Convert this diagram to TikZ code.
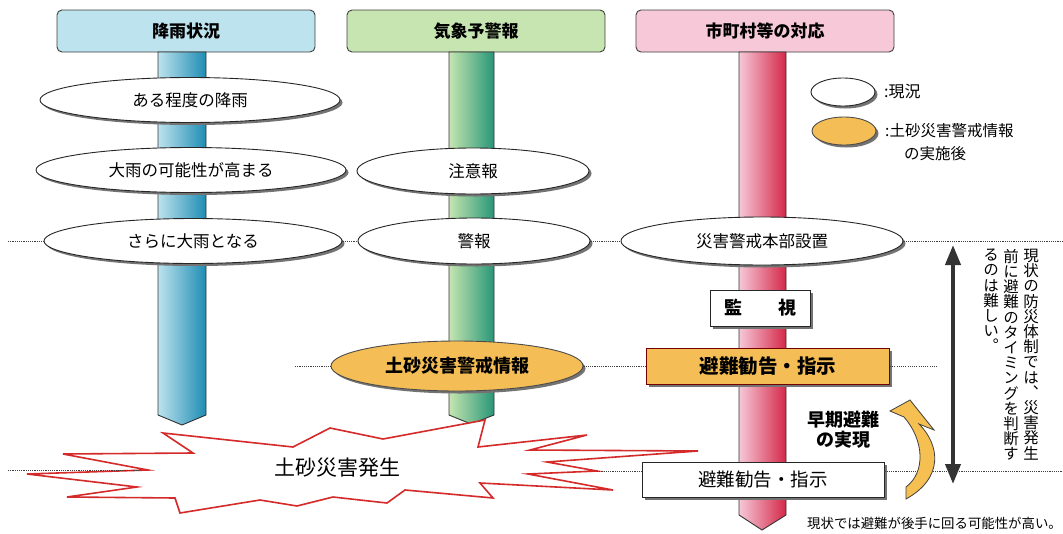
\documentclass[tikz,border=0pt]{standalone}
\usepackage{fontspec}
\setmainfont{Noto Sans CJK JP}
\newfontfamily\vjp[RawFeature=+vert]{Noto Sans CJK JP}
\usetikzlibrary{shapes.geometric,shadows,arrows.meta}
\newcommand\myfs[1]{\fontsize{#1}{#1}\selectfont}
\makeatletter
\def\vst#1{\vbox{\baselineskip=15.2pt\lineskiplimit=-20pt\vst@a#1\@nil}}
\def\vst@a#1#2\@nil{\hbox to 1em{\hss#1\hss}\ifx\relax#2\relax\expandafter\@gobble\else\expandafter\@firstofone\fi{\vst@a#2\@nil}}
\makeatother
\definecolor{hblue}{HTML}{BDE3EE}
\definecolor{hgreen}{HTML}{C6E5B0}
\definecolor{hpink}{HTML}{F6C8D8}
\definecolor{orng}{HTML}{F5BD55}
\definecolor{burst}{HTML}{D42A2A}
\tikzset{
  header/.style={draw=black!75, line width=0.9pt, rounded corners=5pt, minimum width=258, minimum height=42, inner sep=0pt, font=\bfseries\myfs{17}},
  shad/.style={general shadow={fill=black!55, shadow xshift=2.5pt, shadow yshift=-2.5pt}},
  oval/.style={ellipse, draw=black!85, line width=0.9pt, fill=white, shad, inner sep=0pt, font=\myfs{16.5}},
  ovalo/.style={oval, fill=orng, draw=black!70, font=\bfseries\myfs{18}},
  wbox/.style={rectangle, draw=black!85, line width=0.9pt, fill=white, shad, inner sep=0pt},
  obox/.style={wbox, fill=orng, draw=red!45!black},
  dotl/.style={draw=black!75, line width=1pt, dash pattern=on 1.1pt off 1.1pt},
  pillar/.style={draw=black!80, line width=0.9pt},
}
\begin{document}
\begin{tikzpicture}[x=1pt,y=-1pt]
\useasboundingbox (0,0) rectangle (1063,533);
\fill[white] (0,0) rectangle (1063,533);

% headers
\node[header, fill=hblue] (hd1) at (186,31) {降雨状況};
\node[header, fill=hgreen] (hd2) at (476,31) {気象予警報};
\node[header, fill=hpink] (hd3) at (765,31) {市町村等の対応};

% pillars
\draw[pillar, left color=hblue, middle color=hblue!70!cyan!60!blue, right color={rgb,255:red,30;green,140;blue,180}]
  (158,52) -- (158,415) -- (182,425) -- (206,415) -- (206,52) -- cycle;
\draw[pillar, left color=hgreen, middle color={rgb,255:red,160;green,214;blue,170}, right color={rgb,255:red,40;green,150;blue,120}]
  (449,52) -- (449,415) -- (471,424) -- (494,415) -- (494,52) -- cycle;
\draw[pillar, left color=hpink, middle color={rgb,255:red,236;green,160;blue,180}, right color={rgb,255:red,212;green,40;blue,72}]
  (739,52) -- (739,515) -- (762,530) -- (786,515) -- (786,52) -- cycle;

% column 1 ellipses
\node[oval, minimum width=300, minimum height=45] (e1) at (190,100) {ある程度の降雨};
\node[oval, minimum width=310, minimum height=45] (e2) at (191,170) {大雨の可能性が高まる};
\node[oval, minimum width=298, minimum height=45] (e3) at (193,241) {さらに大雨となる};

% column 2 ellipses
\node[oval, minimum width=232, minimum height=46] (w1) at (473,171) {注意報};
\node[oval, minimum width=232, minimum height=46] (w2) at (474,241) {警報};
\node[ovalo, minimum width=252, minimum height=50] (k) at (457,366) {土砂災害警戒情報};

% column 3
\node[oval, minimum width=282, minimum height=48] (h1) at (762,241) {災害警戒本部設置};
\node[wbox, minimum width=100, minimum height=36, font=\bfseries\myfs{18}] (kan) at (760,308) {監\hspace{2em}視};
\node[obox, minimum width=243, minimum height=36, font=\bfseries\myfs{19.5}] (ob) at (768,366) {避難勧告・指示};
\node[wbox, minimum width=242, minimum height=35, font=\myfs{18.5}] (wb) at (763,480) {避難勧告・指示};

% legend
\node[oval, minimum width=64, minimum height=28] (lg1) at (843,92) {};
\node[ovalo, minimum width=64, minimum height=28] (lg2) at (844,131) {};
\node[anchor=west, font=\myfs{16}, inner sep=0pt] (lt1) at (884,92) {:現況};
\node[anchor=west, font=\myfs{15.5}, inner sep=0pt] (lt2) at (885,131) {:土砂災害警戒情報};
\node[anchor=west, font=\myfs{15.5}, inner sep=0pt] (lt3) at (904,154) {の実施後};

% starburst
\draw[burst, line width=1.6pt, line join=miter, fill=white]
  (163,433) -- (293,447) -- (330,428) -- (383,439) -- (485,420) -- (478,447)
  -- (587,435) -- (530,450) -- (698,451) -- (547,462) -- (597,471) -- (528,474)
  -- (613,490) -- (480,483) -- (493,498) -- (405,490) -- (387,503) -- (333,497)
  -- (297,506) -- (260,500) -- (180,513) -- (175,498) -- (67,497) -- (137,487)
  -- (27,474) -- (148,470) -- (63,454) -- (193,453) -- cycle;
\node[font=\myfs{21}] (sb) at (337,468) {土砂災害発生};
\coordinate (s1) at (140,470);
\coordinate (s2) at (597,471);

% dotted connectors
\coordinate (L1) at (8,241);
\coordinate (R1) at (1063,241);
\coordinate (L2) at (295,366);
\coordinate (R2) at (937,366);
\coordinate (L3) at (8,470);
\coordinate (R3) at (1063,471);
\draw[dotl] (L1) -- (e3.west);
\draw[dotl] (e3.east) -- (w2.west);
\draw[dotl] (w2.east) -- (h1.west);
\draw[dotl] (h1.east) -- (R1);
\draw[dotl] (L2) -- (k.west);
\draw[dotl] (k.east) -- (ob.west);
\draw[dotl] (ob.east) -- (R2);
\draw[dotl] (L3) -- (s1);
\draw[dotl] (s2) -- (s2 -| wb.west);
\draw[dotl] (R3 -| wb.east) -- (R3);

% early evacuation arrow
\node[font=\bfseries\myfs{18}, align=center, inner sep=0pt] (early) at (843,430) {早期避難\\[2pt]の実現};
\draw[fill=orng!95!yellow, draw=black!75, line width=0.8pt, line join=miter]
  (906,499) .. controls (944,478) and (940,445) .. (919,424) -- (934,430) -- (910,400)
  -- (890,411) -- (904,417) .. controls (924,440) and (926,472) .. (906,487) -- cycle;

% double arrow
\coordinate (a1) at (953,245);
\coordinate (a2) at (953,484);
\draw[draw=black!80, line width=4pt, {Triangle[width=15pt,length=20pt]}-{Triangle[width=15pt,length=20pt]}] (a1) -- (a2);

% vertical text
\node[anchor=north, inner sep=0pt, font=\vjp\myfs{15.5}] (v1) at (1031,249) {\vst{現状の防災体制では、災害発生}};
\node[anchor=north, inner sep=0pt, font=\vjp\myfs{15.5}] (v2) at (1011,249) {\vst{前に避難のタイミングを判断す}};
\node[anchor=north, inner sep=0pt, font=\vjp\myfs{15.5}] (v3) at (991,249) {\vst{るのは難しい。}};

% bottom note
\node[anchor=west, font=\myfs{13.4}, inner sep=0pt] (note) at (807,523) {現状では避難が後手に回る可能性が高い。};
\end{tikzpicture}
\end{document}
